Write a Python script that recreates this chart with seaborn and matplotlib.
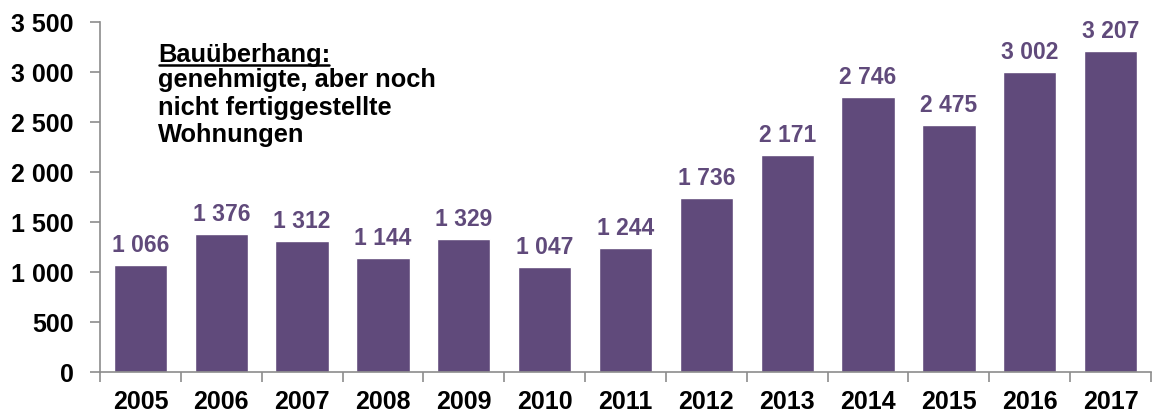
import matplotlib
matplotlib.use("Agg")
import matplotlib.pyplot as plt
import seaborn as sns
import numpy as np
import pandas as pd
from matplotlib.ticker import FixedLocator
from matplotlib.lines import Line2D

years = ["2005", "2006", "2007", "2008", "2009", "2010", "2011", "2012",
         "2013", "2014", "2015", "2016", "2017"]
values = [1066, 1376, 1312, 1144, 1329, 1047, 1244, 1736, 2171, 2746, 2475, 3002, 3207]
yticks = [0, 500, 1000, 1500, 2000, 2500, 3000, 3500]
note_title = "Bauüberhang:"
note_lines = ["genehmigte, aber noch", "nicht fertiggestellte", "Wohnungen"]

bar_color = "#604A7B"
axis_color = "#8C8C8C"

sns.set_theme(style="white")
plt.rcParams["font.family"] = ["Liberation Sans", "DejaVu Sans"]

fig = plt.figure(figsize=(11.53, 4.16), dpi=100)
ax = fig.add_axes([100 / 1153, 1 - 372 / 416, 1 - 100 / 1153 - 2 / 1153, (372 - 22) / 416])

df = pd.DataFrame({"year": years, "value": values})
sns.barplot(data=df, x="year", y="value", color=bar_color, saturation=1, width=0.66, ax=ax)

def fmt(v):
    return f"{v:,}".replace(",", " ")

for i, v in enumerate(values):
    ax.text(i, v + 80, fmt(v), ha="center", va="bottom", color=bar_color,
            fontsize=16.5, fontweight="bold")

ax.set_ylim(0, 3500)
ax.set_xlim(-0.5, len(years) - 0.5)
ax.set_yticks(yticks)
ax.set_yticklabels([fmt(t) for t in yticks], fontsize=18, fontweight="bold", color="black")
ax.set_xticks(range(len(years)))
ax.set_xticklabels(years, fontsize=18, fontweight="bold", color="black")
ax.xaxis.set_minor_locator(FixedLocator(np.arange(-0.5, len(years), 1.0)))
ax.tick_params(axis="x", which="major", length=0, pad=13)
ax.tick_params(axis="x", which="minor", length=7, width=1.2, color=axis_color, bottom=True, direction="out")
ax.tick_params(axis="y", which="major", length=7, width=1.2, color=axis_color, left=True, direction="out", pad=12)
ax.set_xlabel("")
ax.set_ylabel("")

for s in ["top", "right"]:
    ax.spines[s].set_visible(False)
for s in ["left", "bottom"]:
    ax.spines[s].set_color(axis_color)
    ax.spines[s].set_linewidth(1.2)

# annotation
nx = 0.217
title = ax.text(nx, 3100, note_title, ha="left", va="baseline", fontsize=18.3,
                fontweight="bold", color="black")
for k, line in enumerate(note_lines):
    ax.text(nx, 2850 - k * 275, line, ha="left", va="baseline", fontsize=18.3,
            fontweight="bold", color="black")

fig.canvas.draw()
r = fig.canvas.get_renderer()
bb = title.get_window_extent(renderer=r)
_, ybase = ax.transData.transform((nx, 3100))
inv = fig.transFigure.inverted()
x0, y0 = inv.transform((bb.x0 + 1, ybase - 2.5))
x1, _ = inv.transform((bb.x1 - 1, ybase - 2.5))
fig.add_artist(Line2D([x0, x1], [y0, y0], color="black", lw=1.8, transform=fig.transFigure))

fig.savefig("out.png", dpi=100)
